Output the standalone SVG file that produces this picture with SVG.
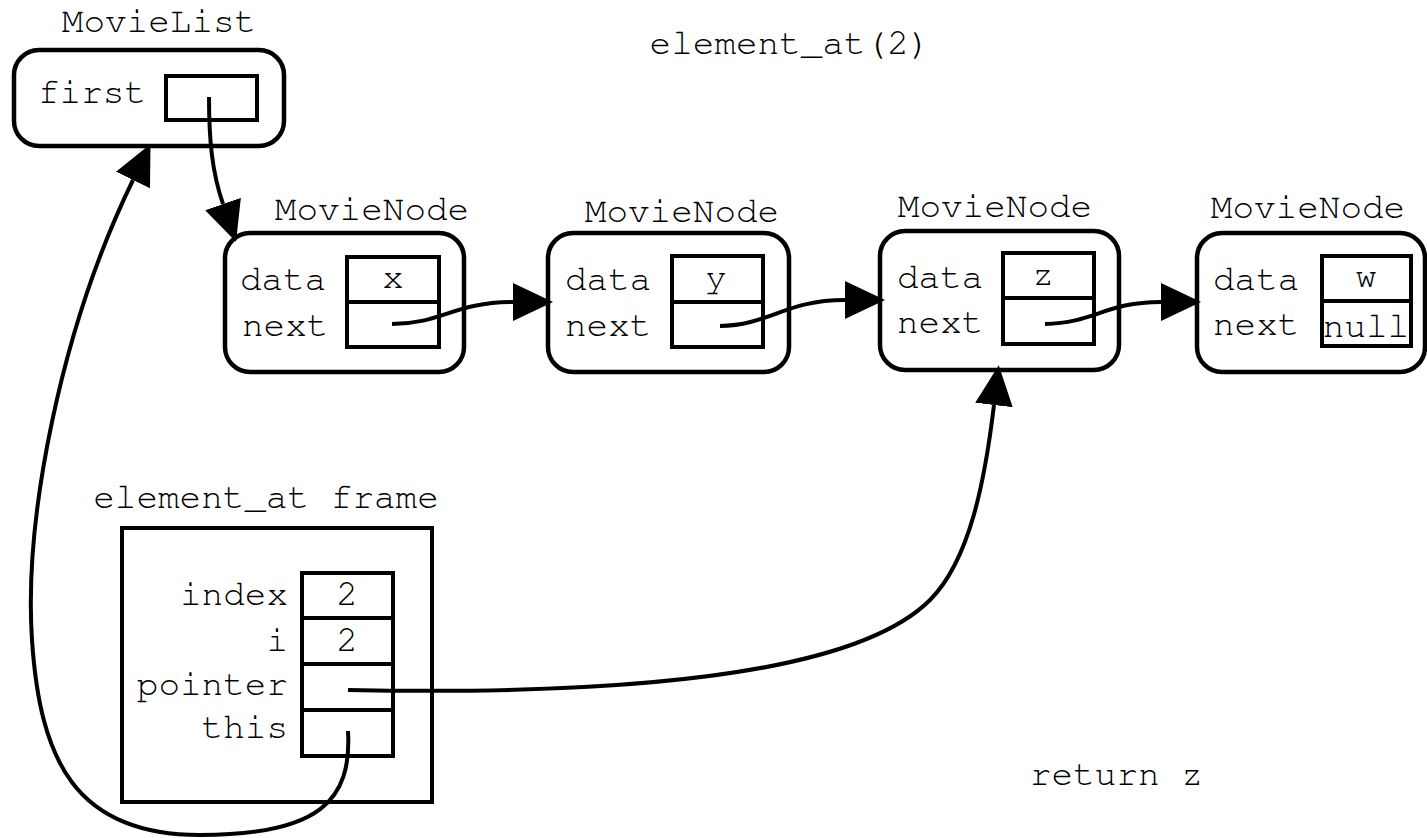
<svg xmlns="http://www.w3.org/2000/svg" width="1427" height="838" viewBox="0 0 1427 838">
<style>
.t{font-family:"Nimbus Mono PS","Nimbus Mono L","FreeMono","Courier New","Liberation Mono",monospace;font-size:36px;fill:#000}
.c{text-anchor:middle}
.e{text-anchor:end}
.box{fill:#fff;stroke:#000;stroke-width:4.5}
.cell{fill:none;stroke:#000;stroke-width:4}
.ln{fill:none;stroke:#000;stroke-width:4}
</style>
<defs>
<marker id="ah" markerUnits="userSpaceOnUse" markerWidth="40" markerHeight="40" refX="0" refY="17" orient="auto" viewBox="0 0 36 34">
<path d="M0,0 L36,17 L0,34 z" fill="#000"/>
</marker>
</defs>
<rect width="1427" height="838" fill="#fff"/>
<text class="t c" x="790" y="54">element_at(2)</text>
<text class="t" x="1030" y="785">return z</text>

<g id="movielist">
<text class="t c" x="159" y="32">MovieList</text>
<rect class="box" x="14" y="50" width="270" height="96" rx="25"/>
<text class="t" x="38" y="103">first</text>
<rect class="cell" x="166" y="76" width="91" height="44"/>
</g>

<g id="node1">
<text class="t c" x="372" y="220">MovieNode</text>
<rect class="box" x="225" y="233" width="239" height="139" rx="25"/>
<text class="t" x="240" y="290">data</text>
<text class="t" x="242" y="336">next</text>
<rect class="cell" x="347" y="257" width="92" height="90"/>
<line class="cell" x1="347" y1="302" x2="439" y2="302"/>
<text class="t c" x="393" y="288">x</text>
</g>

<g id="node2">
<text class="t c" x="682" y="222">MovieNode</text>
<rect class="box" x="548" y="233" width="241" height="139" rx="25"/>
<text class="t" x="565" y="290">data</text>
<text class="t" x="565" y="336">next</text>
<rect class="cell" x="672" y="256" width="91" height="91"/>
<line class="cell" x1="672" y1="302" x2="763" y2="302"/>
<text class="t c" x="716" y="288">y</text>
</g>

<g id="node3">
<text class="t c" x="995" y="217">MovieNode</text>
<rect class="box" x="880" y="231" width="239" height="139" rx="25"/>
<text class="t" x="897" y="288">data</text>
<text class="t" x="897" y="333">next</text>
<rect class="cell" x="1003" y="253" width="91" height="91"/>
<line class="cell" x1="1003" y1="298" x2="1094" y2="298"/>
<text class="t c" x="1043" y="285">z</text>
</g>

<g id="node4">
<text class="t c" x="1308" y="218">MovieNode</text>
<rect class="box" x="1197" y="233" width="228" height="139" rx="25"/>
<text class="t" x="1213" y="290">data</text>
<text class="t" x="1213" y="335">next</text>
<rect class="cell" x="1322" y="256" width="89" height="90"/>
<line class="cell" x1="1322" y1="301" x2="1411" y2="301"/>
<text class="t c" x="1366" y="287">w</text>
<text class="t c" x="1366" y="337">null</text>
</g>

<g id="frame">
<text class="t c" x="266" y="508">element_at frame</text>
<rect class="cell" x="122" y="528" width="310" height="274"/>
<rect class="cell" x="302" y="573" width="91" height="183"/>
<line class="cell" x1="302" y1="618" x2="393" y2="618"/>
<line class="cell" x1="302" y1="664" x2="393" y2="664"/>
<line class="cell" x1="302" y1="710" x2="393" y2="710"/>
<text class="t e" x="288" y="605">index</text>
<text class="t e" x="288" y="651">i</text>
<text class="t e" x="288" y="695">pointer</text>
<text class="t e" x="288" y="738">this</text>
<text class="t c" x="347" y="605">2</text>
<text class="t c" x="347" y="651">2</text>
</g>

<g id="connectors">
<path class="ln" d="M209,97 C209,140 212,172 223,204" marker-end="url(#ah)"/>
<path class="ln" d="M392,324 C440,324 455,302 513,302" marker-end="url(#ah)"/>
<path class="ln" d="M720,326 C770,325 785,300 845,300" marker-end="url(#ah)"/>
<path class="ln" d="M1045,324 C1095,323 1105,302 1161,302" marker-end="url(#ah)"/>
<path class="ln" d="M348,690 C600,695 850,680 930,600 C970,560 985,480 994,405" marker-end="url(#ah)"/>
<path class="ln" d="M348,731 C352,800 320,835 200,835 C75,835 40,760 32,640 C24,520 60,330 133,180" marker-end="url(#ah)"/>
</g>
</svg>
